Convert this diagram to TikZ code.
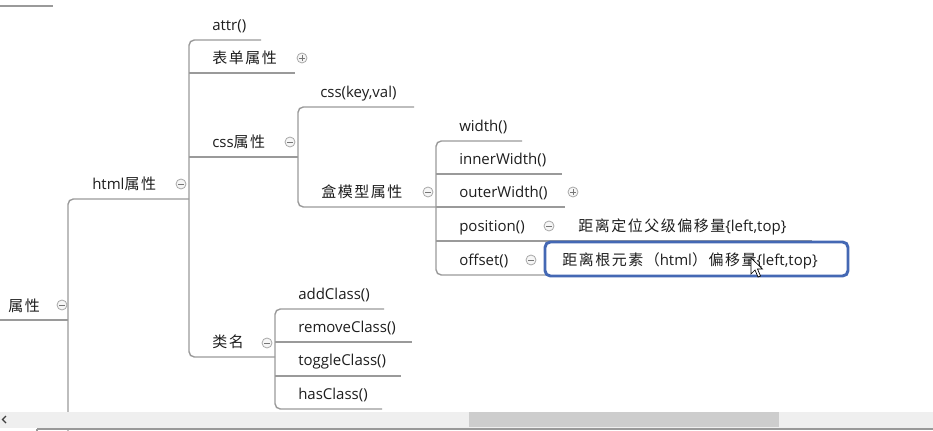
\documentclass[tikz,border=0pt]{standalone}
\usepackage{fontspec}
\setmainfont{Open Sans}
\newfontfamily\cjk[LetterSpace=10]{Noto Sans CJK SC}
\definecolor{linegray}{HTML}{9A9A9A}
\definecolor{txt}{HTML}{1E1E1E}
\definecolor{toggray}{HTML}{A8A8A8}
\definecolor{togfill}{HTML}{F6F6F6}
\definecolor{selblue}{HTML}{4468B4}
\definecolor{sbbg}{HTML}{EFEFEF}
\definecolor{sbthumb}{HTML}{CDCDCD}
\begin{document}
\begin{tikzpicture}[x=0.75pt,y=-0.75pt,
  conn/.style={draw=linegray, line width=1.05pt, rounded corners=4pt},
  lbl/.style={anchor=base west, inner sep=0pt, text=txt, font=\fontsize{11.25}{13}\selectfont},
  togc/.style={circle, draw=toggray, fill=togfill, line width=0.6pt, minimum size=7.5pt, inner sep=0pt},
  tmark/.style={draw=toggray!70!black, line width=0.6pt},
  selbox/.style={draw=selblue, line width=2.2pt, rounded corners=4pt, fill=white}]
\useasboundingbox[fill=white] (0,0) rectangle (933,431);

% coordinates of topic lines
\coordinate (top-r) at (53,6);   \coordinate (top-l) at (0,6);
\coordinate (root-l) at (0,320); \coordinate (root-r) at (68,320);
\coordinate (html-l) at (68,199); \coordinate (html-r) at (189,199);
\coordinate (attr-l) at (189,40); \coordinate (attr-r) at (261,40);
\coordinate (form-l) at (189,73); \coordinate (form-r) at (295,73);
\coordinate (css-l) at (189,157); \coordinate (css-r) at (298,157);
\coordinate (cls-l) at (189,357); \coordinate (cls-r) at (275,357);
\coordinate (kv-l) at (298,107); \coordinate (kv-r) at (414,107);
\coordinate (box-l) at (298,207); \coordinate (box-r) at (436,207);
\coordinate (wid-l) at (436,141); \coordinate (wid-r) at (522,141);
\coordinate (inn-l) at (436,174); \coordinate (inn-r) at (562,174);
\coordinate (out-l) at (436,207); \coordinate (out-r) at (565,207);
\coordinate (pos-l) at (436,241); \coordinate (pos-r) at (557,241);
\coordinate (posc-r) at (812,241);
\coordinate (off-l) at (436,275); \coordinate (off-r) at (545,275);
\coordinate (add-l) at (275,309); \coordinate (add-r) at (384,309);
\coordinate (rem-l) at (275,342); \coordinate (rem-r) at (412,342);
\coordinate (tgl-l) at (275,376); \coordinate (tgl-r) at (401,376);
\coordinate (has-l) at (275,409); \coordinate (has-r) at (382,409);
\coordinate (rootdown) at (68,431);

% connectors
\draw[conn] (top-l) -- (top-r);
\draw[conn] (root-l) -- (root-r);
\draw[conn] (html-r) -- (html-l) -- (rootdown);
\draw[conn] (attr-r) -- (attr-l) -- (cls-l) -- (cls-r);
\draw[conn] (form-l) -- (form-r);
\draw[conn] (css-l) -- (css-r);
\draw[conn] (kv-r) -- (kv-l) -- (box-l) -- (box-r);
\draw[conn] (wid-r) -- (wid-l) -- (off-l) -- (off-r);
\draw[conn] (inn-l) -- (inn-r);
\draw[conn] (out-l) -- (out-r);
\draw[conn] (pos-l) -- (pos-r) -- (posc-r);
\draw[conn] (add-r) -- (add-l) -- (has-l) -- (has-r);
\draw[conn] (rem-l) -- (rem-r);
\draw[conn] (tgl-l) -- (tgl-r);

% labels
\node[lbl] (root) at (8,311) {\cjk 属性};
\node[lbl] (html) at (92,190) {html{\cjk 属性}};
\node[lbl] (attr) at (212,31) {attr()};
\node[lbl] (form) at (212,64) {\cjk 表单属性};
\node[lbl] (css) at (212,148) {css{\cjk 属性}};
\node[lbl] (cls) at (212,348) {\cjk 类名};
\node[lbl] (kv) at (320,98) {css(key,val)};
\node[lbl] (box) at (321,198) {\cjk 盒模型属性};
\node[lbl] (wid) at (459,132) {width()};
\node[lbl] (inn) at (459,165) {innerWidth()};
\node[lbl] (out) at (459,198) {outerWidth()};
\node[lbl] (pos) at (459,232) {position()};
\node[lbl] (posc) at (578,232) {{\cjk 距离定位父级偏移量}\{left,top\}};
\node[lbl] (off) at (459,266) {offset()};
\node[lbl] (add) at (298,300) {addClass()};
\node[lbl] (rem) at (298,333) {removeClass()};
\node[lbl] (tgl) at (298,366) {toggleClass()};
\node[lbl] (has) at (298,400) {hasClass()};

% selected topic
\draw[selbox] (545,242) rectangle (848,276);
\node[lbl] (offc) at (562,266) {{\cjk 距离根元素（}html{\cjk ）偏移量}\{left,top\}};

% toggles
\foreach \n/\x/\y in {m1/62/305, m2/181/184, m3/290/142, m4/267/343, m5/428/192, m6/549/226, m7/531/260} {
  \node[togc] (\n) at (\x,\y) {};
  \draw[tmark] ([xshift=-2.2pt]\n.center) -- ([xshift=2.2pt]\n.center);
}
\foreach \n/\x/\y in {p1/302/58, p2/573/192} {
  \node[togc] (\n) at (\x,\y) {};
  \draw[tmark] ([xshift=-2.2pt]\n.center) -- ([xshift=2.2pt]\n.center);
  \draw[tmark] ([yshift=-2.2pt]\n.center) -- ([yshift=2.2pt]\n.center);
}

% mouse cursor
\draw[fill=white, draw=black, line width=0.5pt, line join=miter]
  (751,258) -- (751,274) -- (755,270) -- (758,277) -- (760.5,276) -- (757.5,269) -- (762.5,269) -- cycle;

% scrollbar
\fill[sbbg] (0,412) rectangle (933,428);
\fill[sbthumb] (469,412) rectangle (779,427);
\draw[black!75, line width=0.9pt] (6,416) -- (2.5,419.5) -- (6,423);
\draw[black!40, line width=1pt] (37,429) -- (933,429);
\draw[black!40, line width=0.8pt] (37,429) -- (37,431);
\end{tikzpicture}
\end{document}
